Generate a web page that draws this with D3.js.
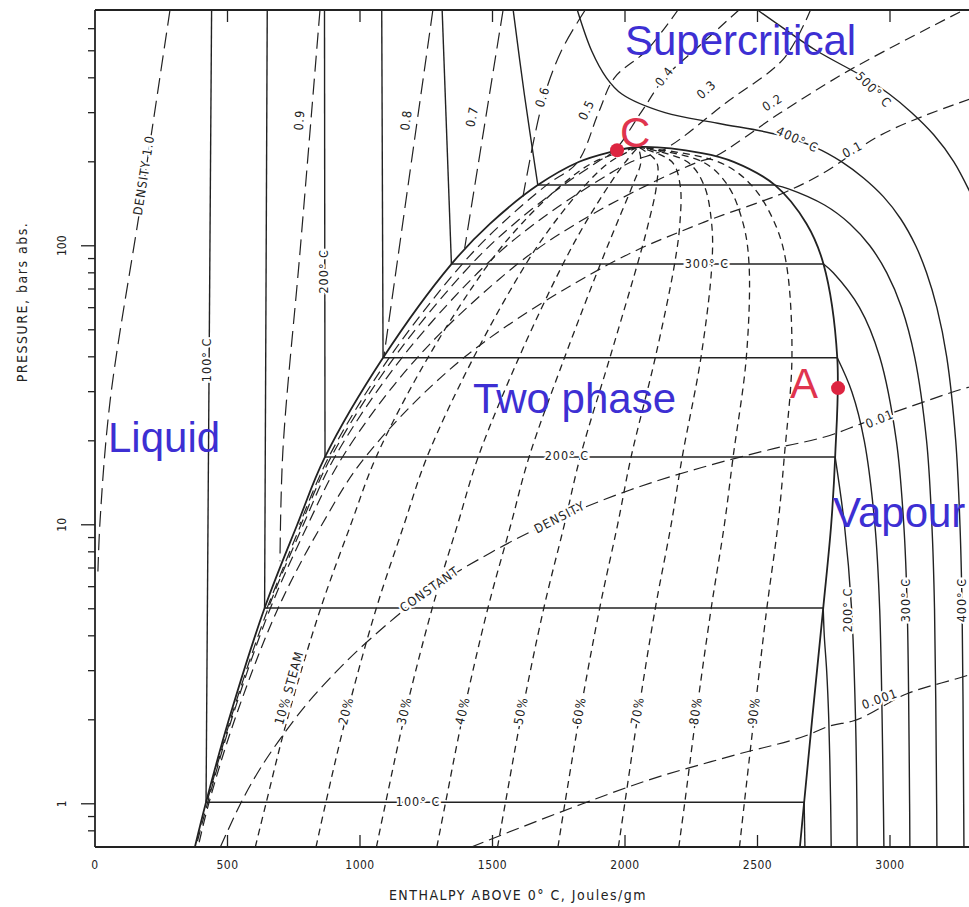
<!DOCTYPE html>
<html>
<head>
<meta charset="utf-8">
<script src="https://cdn.jsdelivr.net/npm/d3@7"></script>
<style>
body { margin: 0; background: #fff; }
svg { display: block; }
</style>
</head>
<body>
<svg id="chart" width="969" height="907"></svg>
<script>
/**************************************************************************************************/
/* Data (enthalpy J/g, pressure bar) */
const xTicks = [0, 500, 1000, 1500, 2000, 2500, 3000];
const yMajor = [1, 10, 100];
const yMinor = [0.8, 0.9, 2, 3, 4, 5, 6, 7, 8, 9, 20, 30, 40, 50, 60, 70, 80, 90, 200, 300, 400, 500, 600];

// saturation dome
const domeP  = [0.7, 1.013, 2, 5.03, 10, 17.5, 39.7, 86, 120, 165, 200, 215];
const domeHf = [377, 419, 505, 640, 763, 868, 1087, 1345, 1491, 1671, 1827, 1930];
const domeHg = [2660, 2676, 2706, 2748, 2778, 2793, 2801, 2749, 2685, 2566, 2410, 2290];
const critical = [2050, 226];

// isotherms across the dome
const satP  = [1.013, 5.03, 17.5, 39.7, 86, 165];
const satHf = [419, 640, 868, 1087, 1345, 1671];
const satHg = [2676, 2748, 2793, 2801, 2749, 2566];

// isotherms in the liquid region
const liq100 = [[419, 1.013], [440, 700]];
const liq150 = [[640, 5.03], [650, 700]];
const liq200 = [[868, 17.5], [866, 700]];
const liq250 = [[1087, 39.7], [1082, 700]];
const liq300 = [[1345, 86], [1310, 700]];
const liq350 = [[1671, 165], [1620, 350], [1578, 700]];

// isotherms in vapour / supercritical region
const vap100 = [[2676, 1.013], [2679, 0.7]];
const vap150 = [[2748, 5.03], [2752, 4], [2761, 3], [2769, 2], [2776, 1], [2778, 0.7]];
const vap200 = [[2793, 17.5], [2828, 10], [2855, 5], [2870, 2], [2875, 1], [2876, 0.7]];
const vap250 = [[2801, 39.7], [2856, 30], [2903, 20], [2943, 10], [2961, 5], [2975, 1], [2977, 0.7]];
const vap300 = [[2749, 86], [2786, 80], [2885, 60], [2961, 40], [3024, 20], [3052, 10], [3065, 5], [3074, 1], [3075, 0.7]];
const vap350 = [[2566, 165], [2617, 160], [2753, 140], [2848, 120], [2924, 100], [2988, 80], [3044, 60],
                [3093, 40], [3138, 20], [3158, 10], [3168, 5], [3176, 1], [3177, 0.7]];
const iso400 = [[1820, 700], [1874, 500], [1930, 400], [1988, 350], [2151, 300], [2350, 275], [2578, 250],
                [2720, 225], [2818, 200], [2900, 175], [2975, 150], [3040, 125], [3097, 100], [3138, 80],
                [3177, 60], [3214, 40], [3248, 20], [3264, 10], [3272, 5], [3278, 1], [3279, 0.7]];
const iso500 = [[2500, 700], [2600, 600], [2723, 500], [2906, 400], [2997, 350], [3082, 300], [3165, 250],
                [3241, 200], [3310, 150]];

// constant quality (dryness) lines
const qualityP = [0.7, 1, 2, 5, 10, 17.5, 40, 86, 120, 165, 200, 226];
const q10 = [605, 645, 725, 851, 965, 1061, 1258, 1485, 1610, 1761, 1885, 2050];
const q20 = [834, 870, 945, 1061, 1166, 1253, 1430, 1626, 1730, 1850, 1944, 2050];
const q30 = [1062, 1096, 1165, 1272, 1368, 1446, 1601, 1766, 1849, 1940, 2002, 2050];
const q40 = [1290, 1322, 1385, 1482, 1569, 1638, 1773, 1907, 1969, 2029, 2060, 2050];
const q50 = [1519, 1548, 1606, 1693, 1771, 1831, 1944, 2047, 2088, 2119, 2119, 2050];
const q60 = [1747, 1773, 1826, 1904, 1972, 2023, 2115, 2187, 2207, 2208, 2177, 2050];
const q70 = [1975, 1999, 2046, 2114, 2174, 2216, 2287, 2328, 2327, 2298, 2235, 2050];
const q80 = [2203, 2225, 2266, 2325, 2375, 2408, 2458, 2468, 2446, 2387, 2293, 2050];
const q90 = [2432, 2450, 2486, 2535, 2577, 2601, 2630, 2609, 2566, 2477, 2352, 2050];

// constant density lines, g/cm3
const rho10 = [[283, 700], [174, 144], [57, 27.8], [19, 10.3], [11, 6.8]];
const rho09 = [[849, 700], [774, 96], [709, 18.4], [698, 7.4]];
const rho08 = [[1275, 700], [1090, 40]];
const rho07 = [[1540, 700], [1395, 98]];
const rho06 = [[1850, 700], [1760, 500], [1690, 330], [1615, 150]];
const rho05 = [[2200, 700], [2080, 500], [1960, 400], [1900, 300], [1820, 199], [1704, 165], [1535, 120],
               [1386, 86], [1113, 40], [882, 17.5], [772, 10]];
const rho04 = [[2430, 700], [2280, 520], [2150, 400], [2060, 300], [1960, 219], [1897, 200], [1767, 165],
               [1582, 120], [1421, 86], [1131, 40], [891, 17.5], [777, 10], [648, 5]];
const rho03 = [[2700, 700], [2600, 470], [2380, 325], [2150, 222], [2024, 200], [1872, 165], [1659, 120],
               [1478, 86], [1161, 40], [905, 17.5], [786, 10], [653, 5], [511, 2], [421, 1]];
const rho02 = [[3264, 689], [2849, 427], [2585, 299], [2340, 209], [2278, 200], [2084, 165], [1816, 120],
               [1594, 86], [1219, 40], [934, 17.5], [803, 10], [661, 5], [515, 2], [424, 1], [381, 0.7]];
const rho01 = [[3300, 335], [3120, 290], [2950, 245], [2760, 185], [2600, 155], [2283, 120], [1940, 86],
               [1396, 40], [1020, 17.5], [856, 10], [690, 5], [527, 2], [429, 1], [389, 0.7]];
const rho001 = [[473, 0.7], [549, 1], [752, 2], [914, 3], [1090, 4.3], [1264, 5.84], [1498, 7.99], [1755, 10.58],
                [2019, 13.33], [2283, 15.98], [2540, 18.54], [2792, 21.2], [2890, 23], [3009, 25.2], [3120, 27.4],
                [3231, 29.8], [3340, 32]];
const rho0001 = [[1420, 0.7], [1840, 1.0], [2070, 1.2], [2420, 1.5], [2700, 1.78], [2772, 1.9], [2860, 1.98],
                 [3064, 2.48], [3264, 2.83], [3350, 3.0]];

// line labels: text, enthalpy, pressure, angle
const lineLabels = [
    ["DENSITY 1.0", 187, 179, -81], ["0.9", 774, 282, -85], ["0.8", 1177, 282, -82],
    ["0.7", 1426, 290, -79], ["0.6", 1691, 341, -72], ["0.5", 1857, 306, -64],
    ["0.4", 2151, 403, -52], ["0.3", 2309, 361, -42], ["0.2", 2558, 324, -32],
    ["0.1", 2860, 220, -28], ["0.01", 2962, 23.8, -22], ["0.001", 2962, 2.36, -20],
    ["CONSTANT", 1264, 5.84, -35], ["DENSITY", 1755, 10.58, -27],
    ["100° C", 425, 39, -90], ["200° C", 867, 81, -90],
    ["100° C", 1219, 1.013, 0], ["200° C", 1781, 17.5, 0], ["300° C", 2309, 86, 0],
    ["400° C", 2649, 239, 25], ["500° C", 2936, 361, 45],
    ["200° C", 2842, 4.95, -90], ["300° C", 3064, 5.37, -90], ["400° C", 3272, 5.37, -90],
    ["10% STEAM", 735, 2.6, -74], ["20%", 950, 2.15, -76], ["30%", 1170, 2.15, -77],
    ["40%", 1390, 2.15, -77], ["50%", 1610, 2.15, -78], ["60%", 1830, 2.15, -79],
    ["70%", 2050, 2.15, -80], ["80%", 2270, 2.15, -81], ["90%", 2490, 2.15, -83]
];

// region names and marked points
const regions = [["Supercritical", 2000, 483], ["Liquid", 49, 18.2], ["Two phase", 1426, 25.2], ["Vapour", 2785, 9.8]];
const points = [["C", 1970, 220, 1981, 226], ["A", 2804, 30.9, 2623, 28.5]];

/**************************************************************************************************/
/* Drawing */
const svg = d3.select("#chart");
const plotLeft = 95, plotRight = 969, plotTop = 10, plotBottom = 847;

const x = d3.scaleLinear().domain([0, 3300]).range([plotLeft, plotRight + 0.5]);
const y = d3.scaleLog().domain([0.7, 700]).range([plotBottom, plotTop]);

const ink = "#222";
const labelFont = "'DejaVu Sans Condensed', 'DejaVu Sans', sans-serif";

svg.append("defs").append("clipPath").attr("id", "plot")
    .append("rect").attr("x", plotLeft).attr("y", plotTop)
    .attr("width", plotRight - plotLeft + 20).attr("height", plotBottom - plotTop);

const plot = svg.append("g").attr("clip-path", "url(#plot)");

const line = d3.line()
    .x(d => x(d[0]))
    .y(d => y(d[1]))
    .curve(d3.curveCatmullRom.alpha(0.5));
const lineX = d3.line()
    .x(d => x(d[0]))
    .y(d => y(d[1]))
    .curve(d3.curveMonotoneX);

function drawLine(pts, width, dash, gen) {
    plot.append("path")
        .attr("d", (gen || line)(pts))
        .attr("fill", "none")
        .attr("stroke", ink)
        .attr("stroke-width", width)
        .attr("stroke-dasharray", dash || null);
}

// quality lines
[q10, q20, q30, q40, q50, q60, q70, q80, q90].forEach(q => {
    drawLine(q.map((h, i) => [h, qualityP[i]]), 1.3, "7,5");
});

// density lines
[rho10, rho09, rho08, rho07, rho06].forEach(r => drawLine(r, 1.2, "16,7"));
[rho05, rho04, rho03, rho02, rho01].forEach(r => drawLine(r, 1.2, "11,6"));
[rho001, rho0001].forEach(r => drawLine(r, 1.2, "13,6", lineX));

// isotherms
[liq100, liq150, liq200, liq250, liq300, liq350].forEach(l => drawLine(l, 1.4));
[vap100, vap150, vap200, vap250, vap300, vap350, iso400, iso500].forEach(l => drawLine(l, 1.4));
satP.forEach((p, i) => {
    plot.append("line")
        .attr("x1", x(satHf[i])).attr("x2", x(satHg[i]))
        .attr("y1", y(p)).attr("y2", y(p))
        .attr("stroke", ink).attr("stroke-width", 1.5);
});

// dome
const dome = domeP.map((p, i) => [domeHf[i], p])
    .concat([critical])
    .concat(domeP.map((p, i) => [domeHg[i], p]).reverse());
drawLine(dome, 1.8);

// line labels with white halo to break the line underneath
plot.selectAll("text.lbl")
    .data(lineLabels)
    .join("text")
        .attr("class", "lbl")
        .attr("transform", d => `translate(${x(d[1])},${y(d[2])}) rotate(${d[3]})`)
        .attr("text-anchor", "middle")
        .attr("dominant-baseline", "middle")
        .attr("font-family", labelFont)
        .attr("font-size", 12.5)
        .attr("letter-spacing", 1)
        .attr("fill", ink)
        .attr("stroke", "#fff")
        .attr("stroke-width", 4)
        .attr("paint-order", "stroke")
        .text(d => d[0]);

/* Frame and axes */
const frame = svg.append("g").attr("stroke", ink).attr("stroke-width", 1.8);
frame.append("line").attr("x1", plotLeft).attr("x2", plotLeft).attr("y1", plotTop).attr("y2", plotBottom);
frame.append("line").attr("x1", plotLeft).attr("x2", plotRight).attr("y1", plotBottom).attr("y2", plotBottom);
frame.append("line").attr("x1", plotLeft).attr("x2", plotRight).attr("y1", plotTop).attr("y2", plotTop);

const ticks = svg.append("g").attr("stroke", ink).attr("stroke-width", 1.3);
xTicks.slice(1).forEach(t => {
    ticks.append("line").attr("x1", x(t)).attr("x2", x(t)).attr("y1", plotTop).attr("y2", plotTop + 12);
    ticks.append("line").attr("x1", x(t)).attr("x2", x(t)).attr("y1", plotBottom).attr("y2", plotBottom - 12);
});
yMinor.forEach(t => {
    ticks.append("line").attr("x1", plotLeft - 7).attr("x2", plotLeft).attr("y1", y(t)).attr("y2", y(t));
});
yMajor.forEach(t => {
    ticks.append("line").attr("x1", plotLeft - 14).attr("x2", plotLeft).attr("y1", y(t)).attr("y2", y(t));
});

svg.append("g").selectAll("text")
    .data(xTicks)
    .join("text")
        .attr("x", d => x(d))
        .attr("y", 869)
        .attr("text-anchor", "middle")
        .attr("font-family", labelFont)
        .attr("font-size", 12)
        .attr("letter-spacing", 0.5)
        .attr("fill", ink)
        .text(d => d);

svg.append("g").selectAll("text")
    .data(yMajor)
    .join("text")
        .attr("transform", d => `translate(66,${y(d)}) rotate(-90)`)
        .attr("text-anchor", "middle")
        .attr("font-family", labelFont)
        .attr("font-size", 12)
        .attr("fill", ink)
        .text(d => d);

svg.append("text")
    .attr("x", 518).attr("y", 900)
    .attr("text-anchor", "middle")
    .attr("font-family", labelFont)
    .attr("font-size", 14)
    .attr("letter-spacing", 1.5)
    .attr("fill", ink)
    .text("ENTHALPY ABOVE 0° C, Joules/gm");

svg.append("text")
    .attr("transform", "translate(27,302) rotate(-90)")
    .attr("text-anchor", "middle")
    .attr("font-family", labelFont)
    .attr("font-size", 14)
    .attr("letter-spacing", 1.5)
    .attr("fill", ink)
    .text("PRESSURE, bars abs.");

/* Region names and points */
svg.append("g").selectAll("text")
    .data(regions)
    .join("text")
        .attr("x", d => x(d[1]))
        .attr("y", d => y(d[2]))
        .attr("font-family", "'Liberation Sans', Arial, sans-serif")
        .attr("font-size", 42)
        .attr("fill", "#3d2fd3")
        .text(d => d[0]);

const marks = svg.append("g");
marks.selectAll("circle")
    .data(points)
    .join("circle")
        .attr("cx", d => x(d[1]))
        .attr("cy", d => y(d[2]))
        .attr("r", 7)
        .attr("fill", "#dd2440");
marks.selectAll("text")
    .data(points)
    .join("text")
        .attr("x", d => x(d[3]))
        .attr("y", d => y(d[4]))
        .attr("font-family", "'Liberation Sans', Arial, sans-serif")
        .attr("font-size", 42)
        .attr("fill", "#e0344e")
        .text(d => d[0]);
</script>
</body>
</html>
